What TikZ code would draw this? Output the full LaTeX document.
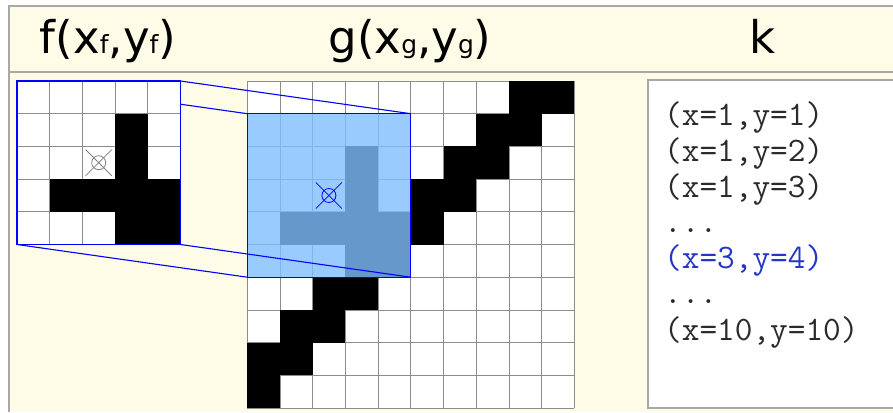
\documentclass[tikz,border=0pt]{standalone}
\usepackage{fontspec}
\setsansfont{DejaVu Sans}
\definecolor{cream}{HTML}{FEFBE6}
\definecolor{frame}{HTML}{A8A8A8}
\definecolor{gridc}{HTML}{8C8C8C}
\definecolor{ovfill}{HTML}{80BFFF}
\definecolor{hiblue}{HTML}{0000FF}
\definecolor{txtblue}{HTML}{2436C8}
\definecolor{txtgray}{HTML}{2A2A2A}
\newcommand\subtxt[1]{{\fontsize{25}{25}\selectfont #1}}
\begin{document}
\begin{tikzpicture}[x=1pt,y=-1pt,
  frameline/.style={draw=frame,line width=1.4pt},
  gridline/.style={draw=gridc,line width=0.8pt},
  bluebox/.style={draw=hiblue,line width=1.3pt},
  connector/.style={draw=hiblue,line width=1.1pt},
  header/.style={anchor=base,font=\sffamily\fontsize{45}{45}\selectfont},
  codeline/.style={anchor=base west,inner sep=0pt,text=txtgray,font=\ttfamily\fontsize{34.3}{34.3}\selectfont},
  marker/.style={line width=0.8pt}]
\useasboundingbox (0,0) rectangle (893,412);
% background
\fill[cream] (9,6) rectangle (893,412);
\draw[frameline] (9,412) -- (9,6) -- (893,6);
\draw[frameline] (9,72) -- (893,72);
% headers
\node[header] (hf) at (108,53) {f(x\subtxt{f},y\subtxt{f})};
\node[header] (hg) at (410,53) {g(x\subtxt{g},y\subtxt{g})};
\node[header] (hk) at (763,53) {k};
% g grid
\def\cs{32.7}
\fill[white] (247.3,81) rectangle ++(327,327);
\foreach \i in {0,...,10} {
  \draw[gridline] ({247.3+\i*\cs},81) -- ++(0,327);
  \draw[gridline] (247.3,{81+\i*\cs}) -- ++(327,0);
}
\foreach \r/\c in {0/8,0/9,1/7,1/8,2/6,2/7,2/3,3/5,3/6,3/3,4/1,4/2,4/3,4/4,4/5,5/3,5/4,6/2,6/3,7/1,7/2,8/0,8/1,9/0}
  \fill[black] ({247.3+\c*\cs},{81+\r*\cs}) rectangle ++(\cs,\cs);
% overlay window
\node[bluebox,fill=ovfill,fill opacity=0.8,draw opacity=1,minimum width=163.5pt,minimum height=163.5pt,inner sep=0pt,outer sep=0pt,anchor=north west] (ov) at (247.3,113.7) {};
\node[circle,draw=hiblue,marker,minimum size=14pt,inner sep=0pt] (gm) at (328.9,195.5) {};
\draw[hiblue,marker] (gm.center) ++(-13,-13) -- ++(26,26);
\draw[hiblue,marker] (gm.center) ++(13,-13) -- ++(-26,26);
% f grid corners
\coordinate (fTL) at (17,81);
\coordinate (fTR) at (180.5,81);
\coordinate (fBL) at (17,244.5);
\coordinate (fBR) at (180.5,244.5);
% connectors
\draw[connector] (fTL) -- (ov.north west);
\draw[connector] (fTR) -- (ov.north east);
\draw[connector] (fBL) -- (ov.south west);
\draw[connector] (fBR) -- (ov.south east);
% f grid
\fill[white] (fTL) rectangle (fBR);
\foreach \i in {1,...,4} {
  \draw[gridline] ({17+\i*\cs},81) -- ++(0,163.5);
  \draw[gridline] (17,{81+\i*\cs}) -- ++(163.5,0);
}
\foreach \r/\c in {1/3,2/3,3/1,3/2,3/3,3/4,4/3,4/4}
  \fill[black] ({17+\c*\cs},{81+\r*\cs}) rectangle ++(\cs,\cs);
\draw[bluebox] (fTL) rectangle (fBR);
\node[circle,draw=gray,marker,minimum size=14pt,inner sep=0pt] (fm) at (98.7,162.7) {};
\draw[gray,marker] (fm.center) ++(-13,-13) -- ++(26,26);
\draw[gray,marker] (fm.center) ++(13,-13) -- ++(-26,26);
% k list
\fill[white] (648,80) rectangle (900,408);
\draw[frame,line width=1.2pt] (900,80) -- (648,80) -- (648,408) -- (900,408);
\node[codeline] (k1) at (664,125) {(x=1,y=1)};
\node[codeline] (k2) at (664,161) {(x=1,y=2)};
\node[codeline] (k3) at (664,197) {(x=1,y=3)};
\node[codeline] (k4) at (664,232) {...};
\node[codeline,text=txtblue] (k5) at (664,268) {(x=3,y=4)};
\node[codeline] (k6) at (664,303) {...};
\node[codeline] (k7) at (664,340) {(x=10,y=10)};
\end{tikzpicture}
\end{document}
